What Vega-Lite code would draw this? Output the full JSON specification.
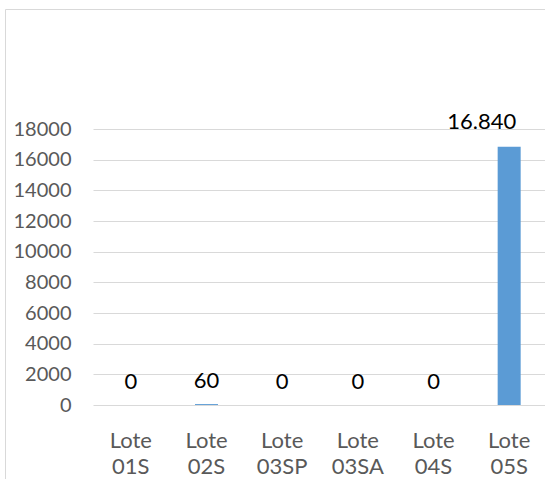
{
  "$schema": "https://vega.github.io/schema/vega-lite/v6.json",
  "autosize": "none",
  "width": 540,
  "height": 470,
  "padding": {"left": 5, "top": 9, "right": 0, "bottom": 0},
  "background": "white",
  "config": {
    "font": "Lato",
    "view": {"stroke": "#d9d9d9", "strokeWidth": 1},
    "locale": {
      "number": {"decimal": ",", "thousands": ".", "grouping": [3], "currency": ["", " €"]}
    }
  },
  "data": {
    "values": [
      {"lote": "Lote 01S", "valor": 0},
      {"lote": "Lote 02S", "valor": 60},
      {"lote": "Lote 03SP", "valor": 0},
      {"lote": "Lote 03SA", "valor": 0},
      {"lote": "Lote 04S", "valor": 0},
      {"lote": "Lote 05S", "valor": 16840}
    ]
  },
  "encoding": {
    "x": {
      "field": "lote",
      "type": "nominal",
      "sort": null,
      "scale": {"range": [88, 542], "paddingInner": 0.696, "paddingOuter": 0.348},
      "axis": {
        "title": null,
        "domain": false,
        "ticks": false,
        "tickSize": 0,
        "grid": false,
        "offset": -74,
        "labelAngle": 0,
        "labelPadding": 25,
        "labelBaseline": "top",
        "labelExpr": "split(datum.label, ' ')",
        "labelLineHeight": 26,
        "labelFont": "Lato",
        "labelFontSize": 22,
        "labelColor": "#595959"
      }
    }
  },
  "layer": [
    {
      "mark": {"type": "bar", "color": "#5B9BD5"},
      "encoding": {
        "y": {
          "field": "valor",
          "type": "quantitative",
          "scale": {"domain": [0, 18000], "range": [396, 120], "nice": false, "zero": true},
          "axis": {
            "title": null,
            "values": [0, 2000, 4000, 6000, 8000, 10000, 12000, 14000, 16000, 18000],
            "format": "d",
            "domain": false,
            "ticks": false,
            "tickSize": 0,
            "grid": true,
            "gridColor": "#d9d9d9",
            "gridWidth": 1,
            "offset": -88,
            "labelPadding": 22,
            "labelFont": "Lato",
            "labelFontSize": 20,
            "labelColor": "#595959"
          }
        }
      }
    },
    {
      "transform": [{"filter": "datum.valor < 10000"}],
      "mark": {"type": "text", "dy": -16, "fontSize": 22, "font": "Lato", "color": "#000000", "align": "center", "baseline": "alphabetic"},
      "encoding": {
        "y": {"field": "valor", "type": "quantitative"},
        "text": {"field": "valor", "type": "quantitative", "format": ",d"}
      }
    },
    {
      "transform": [{"filter": "datum.valor >= 10000"}],
      "mark": {"type": "text", "dy": -18, "dx": 7, "fontSize": 22, "font": "Lato", "color": "#000000", "align": "right", "baseline": "alphabetic"},
      "encoding": {
        "y": {"field": "valor", "type": "quantitative"},
        "text": {"field": "valor", "type": "quantitative", "format": ",d"}
      }
    }
  ]
}
